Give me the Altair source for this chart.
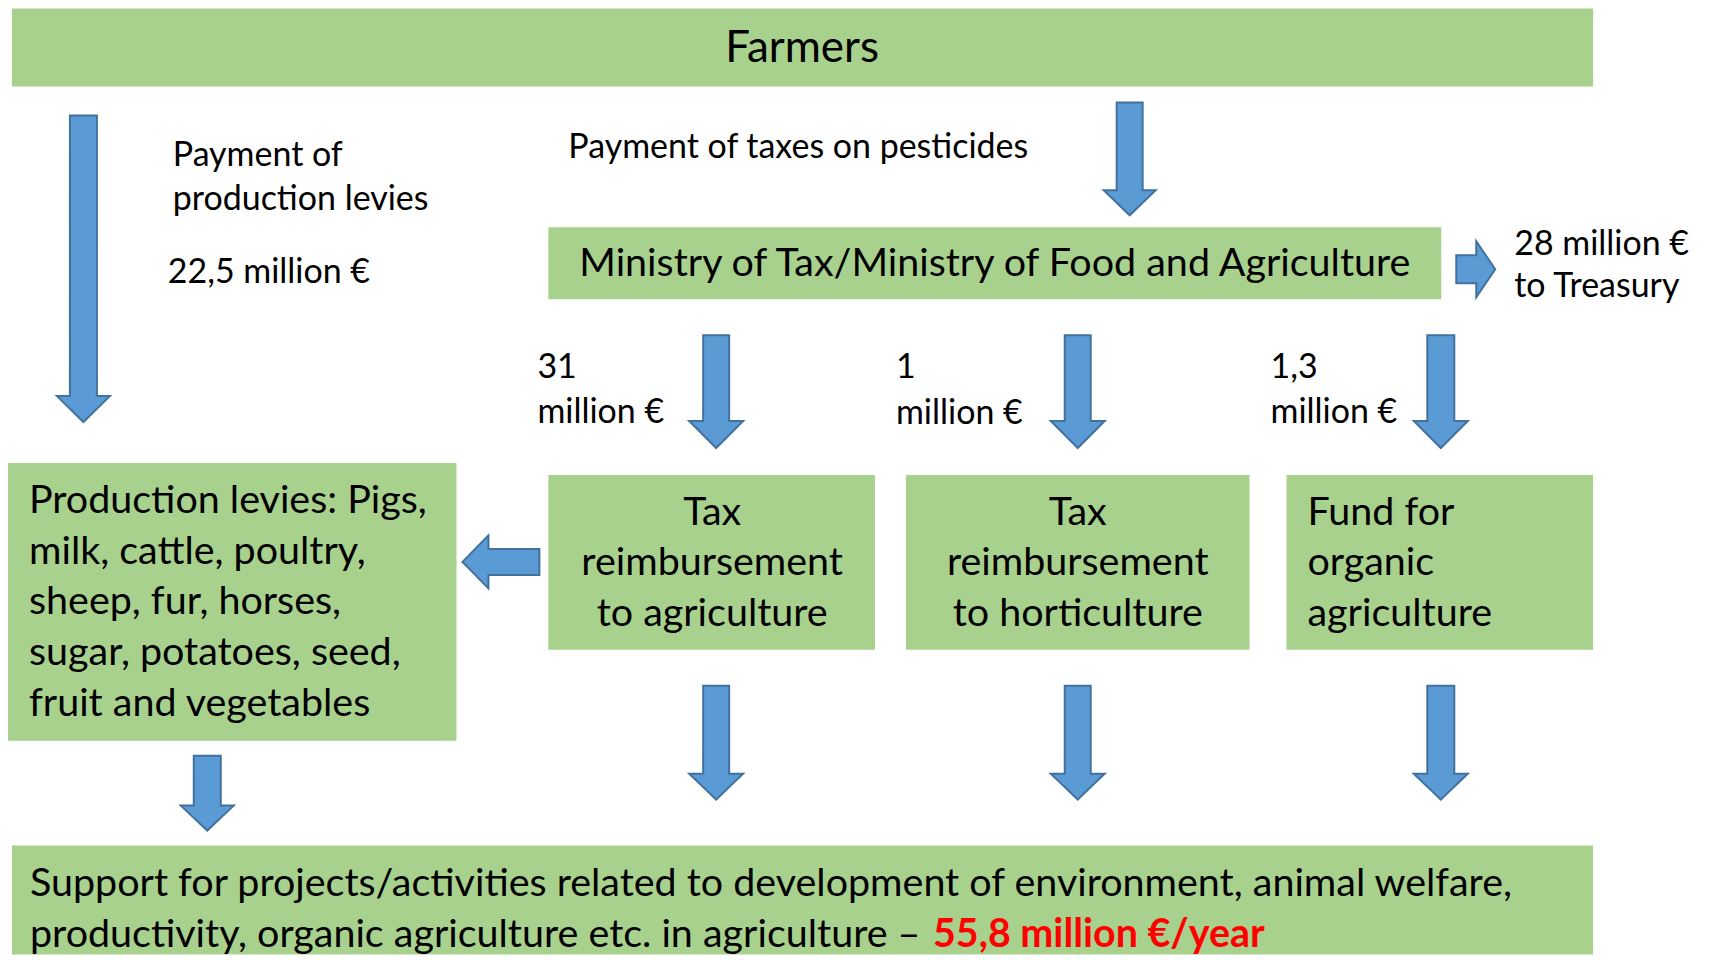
import altair as alt
import pandas as pd

# ---------------- content (text and amounts) ----------------
box_ids = ["farmers", "ministry", "levies", "tax_agri", "tax_horti", "organic", "support"]
box_text = {
    "farmers": ["Farmers"],
    "ministry": ["Ministry of Tax/Ministry of Food and Agriculture"],
    "levies": ["Production levies: Pigs,", "milk, cattle, poultry,", "sheep, fur, horses,",
               "sugar, potatoes, seed,", "fruit and vegetables"],
    "tax_agri": ["Tax", "reimbursement", "to agriculture"],
    "tax_horti": ["Tax", "reimbursement", "to horticulture"],
    "organic": ["Fund for", "organic", "agriculture"],
    "support": ["Support for projects/activities related to development of environment, animal welfare,",
                "productivity, organic agriculture etc. in agriculture \u2013 "],
}
flow_amounts = ["22,5", "31", "1", "1,3", "28"]
flow_labels = [
    ["Payment of", "production levies"],
    ["Payment of taxes on pesticides"],
    ["22,5 million \u20ac"],
    ["31", "million \u20ac"],
    ["1", "million \u20ac"],
    ["1,3", "million \u20ac"],
    ["28 million \u20ac", "to Treasury"],
]
total_label = "55,8 million \u20ac/year"

# ---------------- layout (page pixels) ----------------
box_layout = {
    "farmers": (10, 1593, 5, 83),
    "ministry": (547, 1441, 224, 296),
    "levies": (6, 455, 460, 738),
    "tax_agri": (547, 874, 472, 647),
    "tax_horti": (905, 1249, 472, 647),
    "organic": (1286, 1593, 472, 647),
    "support": (10, 1593, 843, 960),
}
# down arrows: centre x, shaft half width, head half width, top, head start, tip
down_arrows = [
    (81.5, 13.5, 26.5, 112, 393, 419),
    (1129, 13, 26, 99, 187, 212),
    (715, 13, 27, 332, 418, 445),
    (1077, 13, 27, 332, 418, 445),
    (1440.5, 13.5, 27, 332, 418, 445),
    (205.5, 13.5, 26.5, 753, 803, 828),
    (715, 13, 27, 683, 771, 797),
    (1077, 13, 27, 683, 771, 797),
    (1440.5, 13.5, 27, 683, 771, 797),
]
# side arrows: centre y, shaft half width, head half width, tail, head start, tip
side_arrows = [
    (266, 14, 28, 1456, 1476, 1495),
    (559, 13, 26.5, 538, 487, 461),
]

FONT = "Lato"
GREEN = "#A9D18E"
BLUE = "#5B9BD5"
BLUE_EDGE = "#41719C"
BOX_FS = 39.5
LABEL_FS = 34

# ---------------- tables ----------------
rects = pd.DataFrame(
    [dict(id=b, x=box_layout[b][0], x2=box_layout[b][1], y=box_layout[b][2],
          y2=min(box_layout[b][3], 952)) for b in box_ids]
)

EPS = 0.01


def arrow_rows(i, c, sw, hw, a0, ah, at):
    k = (hw - sw) / hw
    b = ah + k * (at - ah)
    pts = [
        (c - hw, ah, ah),
        (c - sw - EPS, ah, b),
        (c - sw, a0, b),
        (c, a0, at),
        (c + sw, a0, b),
        (c + sw + EPS, ah, b),
        (c + hw, ah, ah),
    ]
    return [dict(arrow=i, across=p[0], a1=p[1], a2=p[2]) for p in pts]


down_df = pd.DataFrame(sum([arrow_rows(i, *a) for i, a in enumerate(down_arrows)], []))
side_df = pd.DataFrame(sum([arrow_rows(i, *a) for i, a in enumerate(side_arrows)], []))

# text rows: (text, x, baseline y, font size, align)
text_rows = []
text_rows.append((box_text["farmers"][0], 801, 59, 44, "center"))
text_rows.append((box_text["ministry"][0], 994, 273, BOX_FS, "center"))
for j, t in enumerate(box_text["levies"]):
    text_rows.append((t, 27, 510 + j * 50.8, BOX_FS, "left"))
for bid, cx in (("tax_agri", 711), ("tax_horti", 1077)):
    for j, t in enumerate(box_text[bid]):
        text_rows.append((t, cx, 522 + j * 50.5, BOX_FS, "center"))
for j, t in enumerate(box_text["organic"]):
    text_rows.append((t, 1307, 522 + j * 50.5, BOX_FS, "left"))
for j, t in enumerate(box_text["support"]):
    text_rows.append((t, 28, 893 + j * 52, BOX_FS, "left"))
label_pos = [
    (171, [163, 207]),
    (567, [155]),
    (166, [280]),
    (536, [375, 420]),
    (895, [375, 421]),
    (1270, [375, 420]),
    (1514, [252, 294]),
]
for lines, (lx, ys) in zip(flow_labels, label_pos):
    for t, ly in zip(lines, ys):
        text_rows.append((t, lx, ly, LABEL_FS, "left"))

texts = pd.DataFrame(text_rows, columns=["text", "x", "y", "fs", "align"])
red = pd.DataFrame([dict(text=total_label, x=932, y=945, fs=BOX_FS)])

xs = alt.Scale(domain=[8, 1702], nice=False, zero=False)
ys = alt.Scale(domain=[8, 952], nice=False, zero=False, reverse=True)

rect_layer = alt.Chart(rects).mark_rect(color=GREEN).encode(
    x=alt.X("x:Q", scale=xs, axis=None), x2="x2:Q",
    y=alt.Y("y:Q", scale=ys, axis=None), y2="y2:Q",
)

down_layer = alt.Chart(down_df).mark_area(
    orient="vertical", fill=BLUE, stroke=BLUE_EDGE, strokeWidth=2, fillOpacity=1
).encode(
    x=alt.X("across:Q", scale=xs, axis=None),
    y=alt.Y("a1:Q", scale=ys, axis=None, stack=None),
    y2="a2:Q",
    detail="arrow:N",
)

side_layer = alt.Chart(side_df).mark_area(
    orient="horizontal", fill=BLUE, stroke=BLUE_EDGE, strokeWidth=2, fillOpacity=1
).encode(
    y=alt.Y("across:Q", scale=ys, axis=None),
    x=alt.X("a1:Q", scale=xs, axis=None, stack=None),
    x2="a2:Q",
    detail="arrow:N",
)


def text_layer(df, align, **kw):
    return alt.Chart(df).mark_text(
        align=align, baseline="alphabetic", font=FONT, **kw
    ).encode(
        x=alt.X("x:Q", scale=xs, axis=None),
        y=alt.Y("y:Q", scale=ys, axis=None),
        text="text:N",
        size=alt.Size("fs:Q", scale=None, legend=None),
    )


tl = text_layer(texts[texts["align"] == "left"], "left", color="#000000")
tc = text_layer(texts[texts["align"] == "center"], "center", color="#000000")
tr = text_layer(red, "left", color="#FF0000", fontWeight="bold")

chart = alt.layer(rect_layer, down_layer, side_layer, tl, tc, tr).properties(
    width=1694, height=944, padding=0
).configure_view(stroke=None)

chart.save("out.html", embed_options={"renderer": "svg", "actions": False})
